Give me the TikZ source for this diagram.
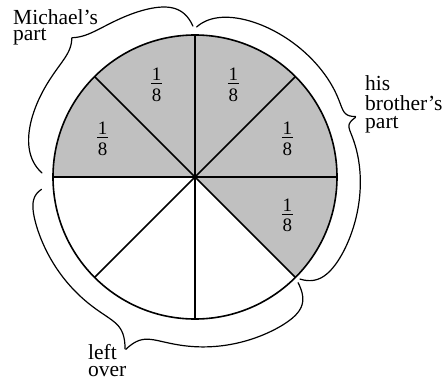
\documentclass[tikz,border=0pt]{standalone}
\usepackage{fontspec}
\setmainfont{Liberation Serif}
\definecolor{pie}{HTML}{C0C0C0}
\tikzset{
  lbl/.style={anchor=base west, inner sep=0pt, font=\fontsize{21.5}{21.5}\selectfont},
  fraclbl/.style={inner sep=0pt, font=\fontsize{19}{19}\selectfont},
  bracecurve/.style={line width=1.2pt, line cap=round, line join=round},
  spoke/.style={line width=1.5pt, line cap=round},
  rim/.style={line width=1.6pt},
}
\newcommand\oneeighth{\vbox{\hbox to 11pt{\hss 1\hss}\kern2.5pt\hrule height 0.9pt\kern4.5pt\hbox to 11pt{\hss 8\hss}}}
% #1 end angle, #2 tip angle, #3 end radius, #4 band radius, #5 tip radius,
% #6 end hook width, #7 tip spike width, #8 dip depth, #9 dip width
\newcommand\bracehalf[9]{plot[variable=\s,domain=0:1,samples=150]
  ({(#1)+\s*((#2)-(#1))}:
   {(#3)+((#4)-(#3))*(1-exp(-min(\s*abs((#2)-(#1))/(#6),20)))
     -(#8)*exp(-min((1-\s)*abs((#2)-(#1))/(#9),20))
     +((#5)-(#4)+(#8))*exp(-min((1-\s)*abs((#2)-(#1))/(#7),20))})}
\begin{document}
\begin{tikzpicture}[x=1pt,y=1pt]
\useasboundingbox (-195,-206) rectangle (248,177);
\coordinate (O) at (0,0);
\fill[pie] (O) -- (-45:142) arc[start angle=-45,end angle=180,radius=142] -- cycle;
\foreach \a in {0,45,90,135} \draw[spoke] (\a:142) -- (\a+180:142);
\draw[rim] (O) circle[radius=142];
\foreach \a/\n in {112.5/f1,157.5/f2,67.5/f3,22.5/f4,-22.5/f5}
  \node[fraclbl] (\n) at (\a:100) {\oneeighth};
% Michael's part
\draw[bracecurve] \bracehalf{90.8}{131.5}{151}{175}{186}{4}{4}{0}{5};
\draw[bracecurve] \bracehalf{178.5}{131.5}{153}{175}{186}{7}{3}{0}{5};
% his brother's part
\draw[bracecurve] \bracehalf{89.4}{20.5}{150}{166.5}{172.6}{7}{1.5}{8}{9};
\draw[bracecurve] \bracehalf{-44.2}{20.5}{146.4}{166.5}{172.6}{4}{1}{7}{12};
% left over
\draw[bracecurve] \bracehalf{-45.7}{-112}{148}{173}{186.6}{3}{3}{10}{20};
\draw[bracecurve] \bracehalf{-175.4}{-112}{154}{166}{186.6}{2.5}{3}{5}{10};
\node[lbl] (m1) at (-182,152.7) {Michael’s};
\node[lbl] (m2) at (-182,136) {part};
\node[lbl] (b1) at (170,86.3) {his};
\node[lbl] (b2) at (170,67) {brother’s};
\node[lbl] (b3) at (170,48.7) {part};
\node[lbl] (l1) at (-107,-182.3) {left};
\node[lbl] (l2) at (-107,-199.7) {over};
\end{tikzpicture}
\end{document}
